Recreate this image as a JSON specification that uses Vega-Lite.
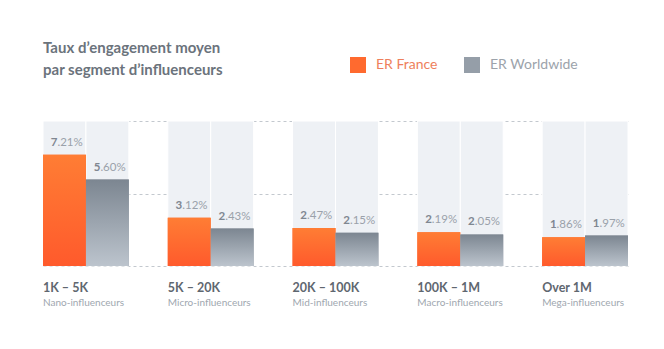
{
  "$schema": "https://vega.github.io/schema/vega-lite/v6.json",
  "width": 585,
  "height": 145,
  "autosize": "none",
  "padding": {"left": 43, "top": 121, "right": 36, "bottom": 83},
  "background": "white",
  "config": {"view": {"stroke": null}, "font": "Lato"},
  "title": {
    "text": ["Taux d’engagement moyen", "par segment d’influenceurs"],
    "anchor": "start",
    "frame": "group",
    "fontSize": 15,
    "fontWeight": "bold",
    "color": "#6b737c",
    "lineHeight": 22,
    "offset": -21
  },
  "datasets": {
    "bars": [
      {"segment": "1K – 5K", "series": "ER France", "value": 7.21, "int": "7", "dec": ".21%"},
      {"segment": "1K – 5K", "series": "ER Worldwide", "value": 5.6, "int": "5", "dec": ".60%"},
      {"segment": "5K – 20K", "series": "ER France", "value": 3.12, "int": "3", "dec": ".12%"},
      {"segment": "5K – 20K", "series": "ER Worldwide", "value": 2.43, "int": "2", "dec": ".43%"},
      {"segment": "20K – 100K", "series": "ER France", "value": 2.47, "int": "2", "dec": ".47%"},
      {"segment": "20K – 100K", "series": "ER Worldwide", "value": 2.15, "int": "2", "dec": ".15%"},
      {"segment": "100K – 1M", "series": "ER France", "value": 2.19, "int": "2", "dec": ".19%"},
      {"segment": "100K – 1M", "series": "ER Worldwide", "value": 2.05, "int": "2", "dec": ".05%"},
      {"segment": "Over 1M", "series": "ER France", "value": 1.86, "int": "1", "dec": ".86%"},
      {"segment": "Over 1M", "series": "ER Worldwide", "value": 1.97, "int": "1", "dec": ".97%"}
    ],
    "segments": [
      {"segment": "1K – 5K", "sub": "Nano-influenceurs"},
      {"segment": "5K – 20K", "sub": "Micro-influenceurs"},
      {"segment": "20K – 100K", "sub": "Mid-influenceurs"},
      {"segment": "100K – 1M", "sub": "Macro-influenceurs"},
      {"segment": "Over 1M", "sub": "Mega-influenceurs"}
    ]
  },
  "encoding": {
    "x": {
      "field": "segment",
      "type": "nominal",
      "scale": {"domain": ["1K – 5K", "5K – 20K", "20K – 100K", "100K – 1M", "Over 1M"], "paddingInner": 0.312, "paddingOuter": 0},
      "axis": null
    }
  },
  "layer": [
    {
      "data": {"name": "bars"},
      "mark": {"type": "bar", "color": "#eef1f5", "stroke": "white", "strokeWidth": 1},
      "encoding": {
        "xOffset": {"field": "series", "type": "nominal", "scale": {"domain": ["ER France", "ER Worldwide"], "paddingInner": 0, "paddingOuter": 0}},
        "y": {
          "datum": 9.4,
          "type": "quantitative",
          "scale": {"domain": [0, 9.4], "nice": false, "zero": true},
          "axis": {"title": null, "labels": false, "ticks": false, "domain": false, "grid": true, "gridDash": [3, 3], "gridColor": "#c3c8ce", "gridWidth": 1, "values": [0, 4.7, 9.4]}
        }
      }
    },
    {
      "data": {"name": "bars"},
      "mark": {"type": "bar"},
      "encoding": {
        "xOffset": {"field": "series", "type": "nominal"},
        "y": {"field": "value", "type": "quantitative"},
        "color": {
          "field": "series",
          "type": "nominal",
          "scale": {"domain": ["ER France", "ER Worldwide"], "range": ["#ff6a2f", "#959ea8"]},
          "legend": {
            "orient": "none",
            "legendX": 307,
            "legendY": -64,
            "direction": "horizontal",
            "title": null,
            "symbolType": "square",
            "symbolSize": 256,
            "symbolStrokeWidth": 0,
            "labelFontSize": 14,
            "labelFont": "Lato",
            "labelOffset": 10,
            "columnPadding": 26,
            "labelLimit": 200,
            "encode": {"labels": {"update": {"fill": {"signal": "datum.value === 'ER France' ? '#ee7f5c' : '#9ca3ab'"}}}}
          }
        }
      }
    },
    {
      "data": {"name": "bars"},
      "mark": {"type": "bar"},
      "encoding": {
        "xOffset": {"field": "series", "type": "nominal"},
        "y": {"field": "value", "type": "quantitative"},
        "color": {
          "condition": {
            "test": "datum.series === 'ER France'",
            "value": {"gradient": "linear", "x1": 0, "y1": 0, "x2": 0, "y2": 1, "stops": [{"offset": 0, "color": "#ff7d34"}, {"offset": 1, "color": "#ff5a2c"}]}
          },
          "value": {"gradient": "linear", "x1": 0, "y1": 0, "x2": 0, "y2": 1, "stops": [{"offset": 0, "color": "#7c8691"}, {"offset": 1, "color": "#bcc4cd"}]}
        }
      }
    },
    {
      "data": {"name": "bars"},
      "mark": {"type": "text", "align": "right", "baseline": "bottom", "dy": -7, "dx": -7, "fontSize": 11.5, "fontWeight": "bold", "color": "#7f8791"},
      "encoding": {
        "xOffset": {"field": "series", "type": "nominal"},
        "y": {"field": "value", "type": "quantitative"},
        "text": {"field": "int"}
      }
    },
    {
      "data": {"name": "bars"},
      "mark": {"type": "text", "align": "left", "baseline": "bottom", "dy": -7, "dx": -7, "fontSize": 11.5, "color": "#9aa1aa"},
      "encoding": {
        "xOffset": {"field": "series", "type": "nominal"},
        "y": {"field": "value", "type": "quantitative"},
        "text": {"field": "dec"}
      }
    },
    {
      "data": {"name": "segments"},
      "mark": {"type": "text", "align": "left", "baseline": "middle", "dy": 22, "fontSize": 12.5, "fontWeight": "bold", "color": "#5f6770"},
      "encoding": {
        "x": {"field": "segment", "type": "nominal", "bandPosition": 0},
        "y": {"datum": 0, "type": "quantitative"},
        "text": {"field": "segment"}
      }
    },
    {
      "data": {"name": "segments"},
      "mark": {"type": "text", "align": "left", "baseline": "middle", "dy": 37, "fontSize": 10, "color": "#a0a7af"},
      "encoding": {
        "x": {"field": "segment", "type": "nominal", "bandPosition": 0},
        "y": {"datum": 0, "type": "quantitative"},
        "text": {"field": "sub"}
      }
    }
  ]
}
